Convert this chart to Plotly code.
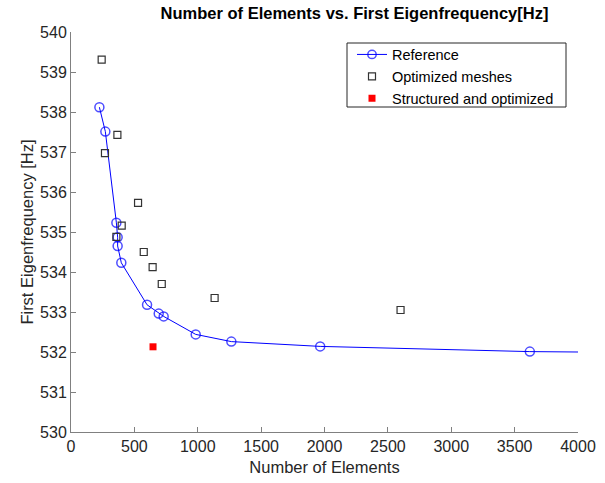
import plotly.graph_objects as go

# Reference curve
ref_x = [224, 271, 358, 368, 368, 397, 600, 692, 731, 984, 1265, 1966, 3620, 4000]
ref_y = [538.12, 537.51, 535.23, 534.87, 534.65, 534.23, 533.18, 532.96, 532.89, 532.44, 532.26, 532.14, 532.01, 532.0]
ref_marker_sizes = [9] * 13 + [0]

# Optimized meshes
opt_x = [242, 366, 268, 529, 400, 358, 574, 644, 716, 1133, 2600]
opt_y = [539.31, 537.43, 536.97, 535.73, 535.16, 534.88, 534.50, 534.12, 533.70, 533.35, 533.05]

# Structured and optimized
str_x = [647]
str_y = [532.13]

x_ticks = [0, 500, 1000, 1500, 2000, 2500, 3000, 3500, 4000]
y_ticks = [530, 531, 532, 533, 534, 535, 536, 537, 538, 539, 540]

FONT = "Liberation Sans, Arial, sans-serif"
AXCOL = "#262626"
W, H = 605, 483
ML, MR, MT, MB = 71, 27, 32, 51
PW, PH = W - ML - MR, H - MT - MB

def px_x(p):
    return (p - ML) / PW

def px_y(p):
    return (H - MB - p) / PH

fig = go.Figure()
fig.add_trace(go.Scatter(
    x=ref_x, y=ref_y, mode="lines+markers", name="Reference",
    line=dict(color="#0000ff", width=1),
    marker=dict(symbol="circle-open", size=ref_marker_sizes, color="#0000ff", line=dict(width=1.5)),
))
fig.add_trace(go.Scatter(
    x=opt_x, y=opt_y, mode="markers", name="Optimized meshes",
    marker=dict(symbol="square-open", size=7, color="#333333", line=dict(width=1.2)),
))
fig.add_trace(go.Scatter(
    x=str_x, y=str_y, mode="markers", name="Structured and optimized",
    marker=dict(symbol="square", size=7, color="#ff0000", line=dict(width=0)),
))

fig.update_layout(
    width=W, height=H,
    margin=dict(l=ML, r=MR, t=MT, b=MB),
    paper_bgcolor="white", plot_bgcolor="white",
    font=dict(family=FONT, size=16, color=AXCOL),
    title=dict(text="<b>Number of Elements vs. First Eigenfrequency[Hz]</b>",
               x=0.586, xanchor="center", y=1 - 13 / H, yanchor="middle",
               font=dict(size=16.5, color="#000000", family=FONT)),
    showlegend=True,
    legend=dict(x=px_x(352), y=px_y(38.5), xanchor="left", yanchor="top",
                bgcolor="rgba(0,0,0,0)", borderwidth=0,
                font=dict(size=14.5, color="#000000", family=FONT),
                itemwidth=30, tracegroupgap=0),
    shapes=[dict(type="rect", xref="paper", yref="paper",
                 x0=px_x(347), x1=px_x(566), y0=px_y(107), y1=px_y(43),
                 line=dict(color="#262626", width=1), fillcolor="white", layer="below")],
)
fig.update_xaxes(
    range=[0, 4000], tickvals=x_ticks, ticktext=[str(v) for v in x_ticks],
    showgrid=False, zeroline=False, showline=True, linecolor="#808080", linewidth=1,
    ticks="inside", ticklen=5, tickcolor="#808080", tickfont=dict(size=16, color=AXCOL),
    automargin=False,
    title=dict(text="Number of Elements", font=dict(size=16.5, color=AXCOL), standoff=7),
)
fig.update_yaxes(
    range=[530, 540], tickvals=y_ticks, ticktext=[str(v) for v in y_ticks],
    showgrid=False, zeroline=False, showline=True, linecolor="#808080", linewidth=1,
    ticks="inside", ticklen=5, tickcolor="#808080", tickfont=dict(size=16, color=AXCOL),
    automargin=False,
    title=dict(text="First Eigenfrequency [Hz]", font=dict(size=16.5, color=AXCOL), standoff=2),
)

fig.write_html("out.html")
